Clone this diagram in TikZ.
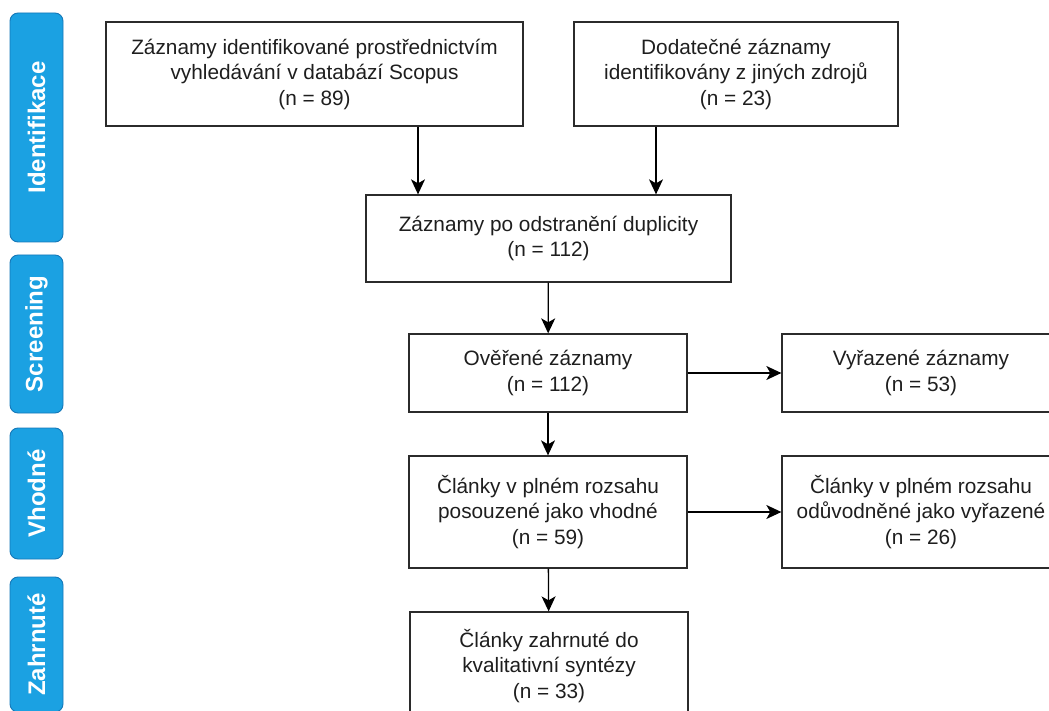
\documentclass[tikz,border=0pt]{standalone}
\usepackage{fontspec}
\setmainfont{Liberation Sans}
\usetikzlibrary{arrows.meta}
\definecolor{phaseblue}{HTML}{1BA1E2}
\definecolor{phaseedge}{HTML}{1578B8}
\definecolor{boxline}{HTML}{2B2B2B}
\definecolor{boxtext}{HTML}{1E1E1E}
\begin{document}
\begin{tikzpicture}[x=1pt, y=-1pt,
  box/.style={draw=boxline, line width=1.3pt, align=center, inner sep=0pt, text=boxtext, font=\fontsize{20.8}{25.5}\selectfont},
  phase/.style={draw=phaseedge, fill=phaseblue, rounded corners=8pt, line width=0.9pt, minimum height=53pt, inner sep=0pt, text=white, font=\bfseries\fontsize{24}{28}\selectfont, rotate=90},
  arrow/.style={-{Stealth[length=15pt,width=14pt,inset=4pt]}, line width=1.3pt, draw=black}]
\clip (0,0) rectangle (1049,711);

% Define the phases
\node (ident) [phase, minimum width=229pt] at (36.5,127.5) {Identifikace};
\node (screen) [phase, minimum width=158pt] at (36.5,334) {Screening};
\node (elig) [phase, minimum width=131pt] at (36.5,493.5) {Vhodné};
\node (incl) [phase, minimum width=135pt] at (36.5,644.5) {Zahrnuté};

% Define the nodes
\node (srcdb) [box, minimum width=417pt, minimum height=104pt] at (314.5,74) {Záznamy identifikované prostřednictvím\\vyhledávání v databází Scopus\\(n = 89)};
\node (srcother) [box, minimum width=324pt, minimum height=104pt] at (736,74) {Dodatečné záznamy\\identifikovány z jiných zdrojů\\(n = 23)};
\node (dedup) [box, minimum width=365pt, minimum height=87pt] at (548.5,238.5) {Záznamy po odstranění duplicity\\(n = 112)};
\node (checked) [box, minimum width=278pt, minimum height=78pt] at (548,373) {Ověřené záznamy\\(n = 112)};
\node (removed) [box, minimum width=278pt, minimum height=78pt] at (921,373) {Vyřazené záznamy\\(n = 53)};
\node (fulltext) [box, minimum width=278pt, minimum height=112pt] at (548,512) {Články v plném rozsahu\\posouzené jako vhodné\\(n = 59)};
\node (ftremoved) [box, minimum width=278pt, minimum height=112pt] at (921,512) {Články v plném rozsahu\\odůvodněné jako vyřazené\\(n = 26)};
\node (synth) [box, minimum width=278pt, minimum height=108pt] at (549,666) {Články zahrnuté do\\kvalitativní syntézy\\(n = 33)};

\coordinate (tapdb) at (418,0);
\coordinate (tapother) at (656,0);

% Connect the nodes
\draw[arrow] (srcdb.south -| tapdb) -- (dedup.north -| tapdb);
\draw[arrow] (srcother.south -| tapother) -- (dedup.north -| tapother);
\draw[arrow] (dedup) -- (checked);
\draw[arrow] (checked) -- (removed);
\draw[arrow] (checked) -- (fulltext);
\draw[arrow] (fulltext) -- (ftremoved);
\draw[arrow] (fulltext) -- (synth);
\end{tikzpicture}
\end{document}
